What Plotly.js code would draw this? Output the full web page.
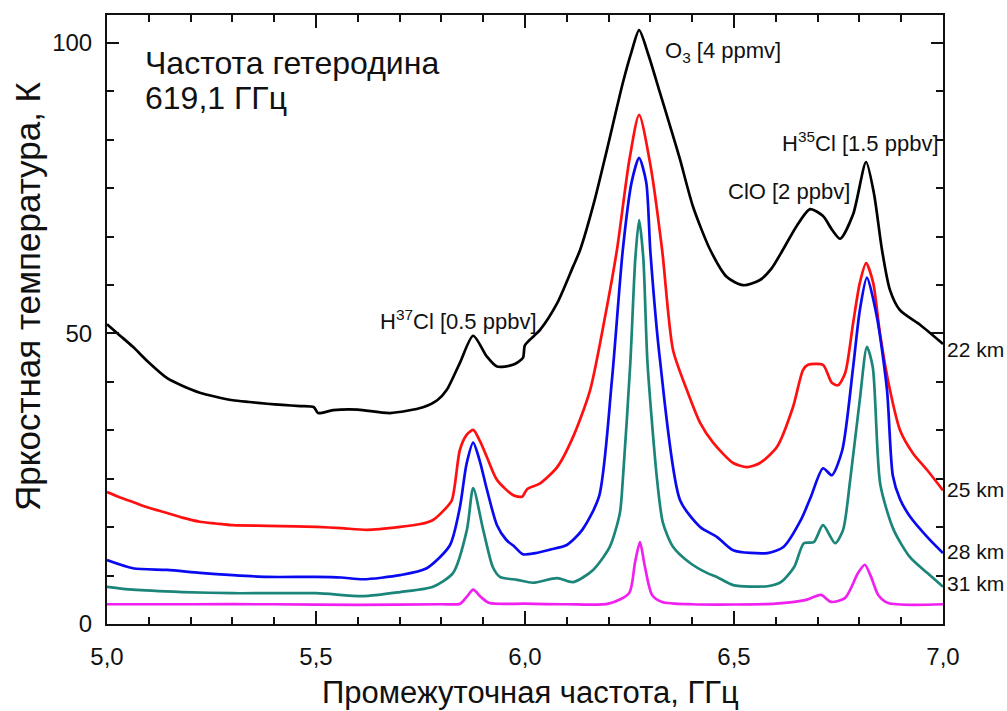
<!DOCTYPE html>
<html><head><meta charset="utf-8">
<script src="https://cdn.plot.ly/plotly-3.0.1.min.js"></script>
<style>body{margin:0;background:#fff}#chart{width:1007px;height:711px}</style>
</head><body><div id="chart"></div>
<script>
// 22 km (black)
const x22 = [5.000,5.030,5.062,5.100,5.144,5.180,5.222,5.260,5.301,5.340,5.383,5.420,5.462,5.495,5.505,5.541,5.600,5.677,5.756,5.790,5.813,5.844,5.876,5.909,5.933,5.971,5.995,6.000,6.036,6.077,6.115,6.132,6.165,6.196,6.234,6.255,6.273,6.295,6.323,6.350,6.371,6.402,6.443,6.483,6.522,6.562,6.590,6.617,6.650,6.682,6.713,6.735,6.754,6.785,6.816,6.835,6.854,6.873,6.897,6.945,7.000];
const y22 = [51.6,49.7,47.7,45.0,42.3,41.0,39.8,39.1,38.5,38.2,37.9,37.7,37.5,37.3,36.3,36.8,36.9,36.3,37.3,38.5,40.3,44.9,49.6,46.0,44.3,44.6,45.8,48.0,50.6,55.2,61.5,64.4,72.5,81.6,93.1,98.5,102.2,98.0,91.4,85.0,79.9,71.8,64.4,59.7,58.3,59.2,61.2,64.4,68.5,71.4,70.2,67.8,66.3,70.5,79.5,74.0,64.4,57.5,54.0,51.5,48.2];
// 25 km (red)
const x25 = [5.000,5.030,5.062,5.100,5.144,5.180,5.222,5.260,5.301,5.383,5.450,5.502,5.560,5.622,5.701,5.750,5.780,5.805,5.825,5.844,5.860,5.876,5.892,5.909,5.933,5.971,5.993,6.005,6.036,6.077,6.115,6.156,6.196,6.220,6.250,6.273,6.300,6.328,6.354,6.387,6.419,6.450,6.498,6.531,6.562,6.603,6.641,6.665,6.677,6.713,6.734,6.749,6.766,6.785,6.801,6.816,6.833,6.849,6.873,6.897,6.928,6.962,7.000];
const y25 = [22.7,21.8,21.0,20.0,19.1,18.3,17.6,17.3,17.0,16.9,16.8,16.7,16.5,16.2,16.7,17.2,17.9,19.5,21.3,29.9,32.5,33.4,31.5,28.7,24.8,22.2,21.9,23.2,24.2,27.0,32.2,40.3,54.6,64.4,80.0,87.6,79.0,64.4,47.2,40.3,34.6,31.2,27.7,27.0,27.7,30.5,37.3,43.7,44.6,44.6,41.5,41.1,43.2,51.8,58.7,62.1,58.7,50.1,40.3,33.4,29.4,26.5,23.0];
// 28 km (blue)
const x28 = [5.000,5.062,5.144,5.222,5.301,5.383,5.500,5.560,5.613,5.701,5.765,5.820,5.844,5.860,5.876,5.892,5.909,5.933,5.955,5.975,5.995,6.025,6.060,6.100,6.137,6.177,6.208,6.234,6.255,6.273,6.290,6.300,6.323,6.371,6.419,6.459,6.498,6.580,6.619,6.660,6.684,6.713,6.734,6.759,6.785,6.801,6.818,6.842,6.866,6.880,6.897,6.921,6.962,7.000];
const y28 = [11.0,9.6,9.3,8.8,8.4,8.1,8.1,8.0,7.7,8.4,9.6,13.5,20.0,27.5,31.2,28.0,23.1,17.0,14.5,13.3,12.0,12.2,12.8,13.6,16.2,21.9,42.0,64.4,76.0,80.2,76.0,64.0,45.4,21.3,16.7,15.0,12.7,12.2,13.3,17.9,21.9,26.8,25.6,29.9,44.2,54.0,59.6,52.8,40.3,25.5,21.5,18.5,15.0,12.2];
// 31 km (teal)
const x31 = [5.000,5.062,5.181,5.301,5.500,5.613,5.701,5.780,5.828,5.861,5.876,5.900,5.923,5.940,5.981,6.019,6.077,6.115,6.163,6.203,6.227,6.234,6.252,6.264,6.273,6.283,6.293,6.316,6.330,6.354,6.395,6.435,6.459,6.498,6.580,6.612,6.644,6.667,6.691,6.713,6.742,6.761,6.778,6.801,6.818,6.832,6.850,6.882,6.921,6.962,7.000];
const y31 = [6.4,5.9,5.5,5.3,5.3,4.8,5.5,6.4,8.8,16.2,23.4,16.2,9.8,8.1,7.6,7.1,7.9,7.2,9.3,13.3,19.1,24.8,45.0,63.0,69.5,63.0,45.0,24.8,17.4,13.3,10.5,8.8,8.1,6.7,6.5,7.2,9.8,13.9,14.1,17.0,13.9,16.2,24.8,38.6,47.7,44.2,24.0,16.2,11.5,8.8,6.4];
// upper altitude (magenta)
const xM = [5.000,5.200,5.400,5.600,5.800,5.845,5.862,5.876,5.895,5.915,6.000,6.100,6.200,6.249,6.263,6.275,6.287,6.304,6.328,6.400,6.600,6.670,6.708,6.732,6.766,6.797,6.813,6.828,6.845,6.869,7.000];
const yM = [3.4,3.4,3.4,3.3,3.4,3.5,4.8,5.9,4.6,3.6,3.5,3.4,3.5,5.3,10.5,14.1,9.8,5.0,3.8,3.4,3.5,4.1,5.0,3.8,4.5,8.8,10.2,8.1,5.0,3.6,3.4];

const xTickVals = [5.0,5.5,6.0,6.5,7.0];
const xTickText = ['5,0','5,5','6,0','6,5','7,0'];
const yTickVals = [0,50,100];
const yTickText = ['0','50','100'];

const seriesNames = ['22 km','25 km','28 km','31 km','верх'];
const seriesColors = ['#000000','#ff1010','#0a0af0','#1b857a','#f020f0'];
const xs = [x22,x25,x28,x31,xM];
const ys = [y22,y25,y28,y31,yM];

const traces = xs.map((x,i)=>({
  x:x, y:ys[i], type:'scatter', mode:'lines', name:seriesNames[i],
  line:{color:seriesColors[i], width:2.7, shape:'spline', smoothing:0.7},
  hoverinfo:'skip'
}));

const F = 'Liberation Sans, Arial, sans-serif';
const TXT = '#111111';
const ann = (x,y,text,size,xref,xanchor)=>({x:x,y:y,xref:xref||'x',yref:'y',text:text,showarrow:false,
  xanchor:xanchor||'left',yanchor:'middle',font:{family:F,size:size,color:TXT}});

const layout = {
  width:1007, height:711,
  margin:{l:107,r:64,t:15,b:87},
  paper_bgcolor:'#fff', plot_bgcolor:'#fff',
  showlegend:false,
  xaxis:{range:[5,7], tickmode:'array', tickvals:xTickVals, ticktext:xTickText,
    ticks:'inside', ticklen:13, tickwidth:2, tickcolor:'#111',
    minor:{tickmode:'linear', tick0:5, dtick:0.1, ticks:'inside', ticklen:7, tickwidth:2, tickcolor:'#111'},
    showline:true, linecolor:'#111', linewidth:2, mirror:'allticks', showgrid:false, zeroline:false,
    tickfont:{family:F,size:24,color:TXT}, ticklabelstandoff:10},
  yaxis:{range:[0,104.8], tickmode:'array', tickvals:yTickVals, ticktext:yTickText,
    ticks:'inside', ticklen:12, tickwidth:2, tickcolor:'#111',
    minor:{tickmode:'linear', tick0:0, dtick:50/6, ticks:'inside', ticklen:7, tickwidth:2, tickcolor:'#111'},
    showline:true, linecolor:'#111', linewidth:2, mirror:'allticks', showgrid:false, zeroline:false,
    tickfont:{family:F,size:24,color:TXT}, ticklabelstandoff:8},
  annotations:[
    {x:0.5066,y:-0.1133,xref:'paper',yref:'paper',text:'Промежуточная частота, ГГц',showarrow:false,
      xanchor:'center',yanchor:'middle',font:{family:F,size:31,color:TXT}},
    {x:-0.0945,y:0.5386,xref:'paper',yref:'paper',text:'Яркостная температура, К',showarrow:false,textangle:-90,
      xanchor:'center',yanchor:'middle',font:{family:F,size:35,color:TXT}},
    ann(5.086,96.6,'Частота гетеродина',32),
    ann(5.086,90.5,'619,1 ГГц',32),
    ann(6.330,98.5,'O<sub>3</sub> [4 ppmv]',22),
    ann(6.481,74.4,'ClO [2 ppbv]',22),
    ann(6.610,83.0,'H<sup>35</sup>Cl [1.5 ppbv]',22),
    ann(5.648,52.3,'H<sup>37</sup>Cl [0.5 ppbv]',22),
    ann(1.002,47.2,'22 km',21,'paper'),
    ann(1.002,23.1,'25 km',21,'paper'),
    ann(1.002,12.4,'28 km',21,'paper'),
    ann(1.002,6.9,'31 km',21,'paper')
  ]
};
Plotly.newPlot('chart', traces, layout, {displayModeBar:false, staticPlot:true});
</script></body></html>
